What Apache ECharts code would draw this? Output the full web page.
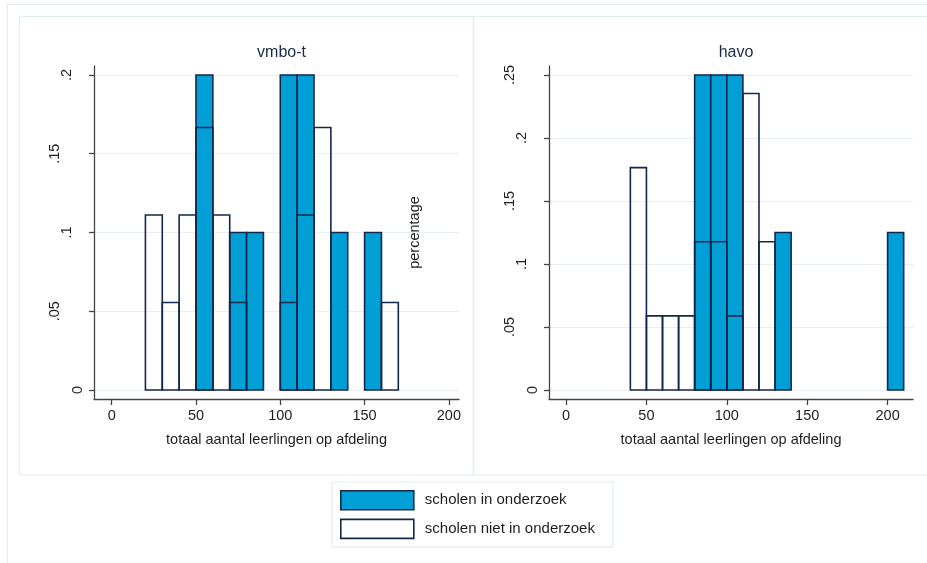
<!DOCTYPE html>
<html>
<head>
<meta charset="utf-8">
<script src="https://cdn.jsdelivr.net/npm/echarts@6/dist/echarts.min.js"></script>
<style>
  html, body { margin: 0; padding: 0; background: #ffffff; }
  #chart { width: 927px; height: 563px; }
</style>
</head>
<body>
<div id="chart"></div>
<script>
// Histogram bins: lower edge of each bin (width 10 pupils) and share of schools
const binWidth = 10;

// vmbo-t
const vmboInStart   = [50, 70, 80, 100, 110, 130, 150];
const vmboInShare   = [0.2, 0.1, 0.1, 0.2, 0.2, 0.1, 0.1];
const vmboNietStart = [20, 30, 40, 50, 60, 70, 100, 110, 120, 160];
const vmboNietShare = [0.1111, 0.0556, 0.1111, 0.1667, 0.1111, 0.0556, 0.0556, 0.1111, 0.1667, 0.0556];

// havo
const havoInStart   = [80, 90, 100, 130, 200];
const havoInShare   = [0.25, 0.25, 0.25, 0.125, 0.125];
const havoNietStart = [40, 50, 60, 70, 80, 90, 100, 110, 120];
const havoNietShare = [0.1765, 0.0588, 0.0588, 0.0588, 0.1176, 0.1176, 0.0588, 0.2353, 0.1176];

// Axis ticks
const xTicks     = [0, 50, 100, 150, 200];
const vmboYTicks = [0, 0.05, 0.1, 0.15, 0.2];
const havoYTicks = [0, 0.05, 0.1, 0.15, 0.2, 0.25];

const panelTitles = ['vmbo-t', 'havo'];
const xAxisTitle = 'totaal aantal leerlingen op afdeling';
const yAxisTitle = 'percentage';
const seriesNames = ['scholen in onderzoek', 'scholen niet in onderzoek'];

const FONT = '"Liberation Sans", Arial, Helvetica, sans-serif';
const BLUE = '#00A0D6';
const EDGE = '#14284b';
const AXIS = '#444444';
const TEXT = '#1e1e1e';
const GRID = '#e8eff0';
const FRAME = '#e3edef';

function zip(starts, shares) {
  return starts.map((s, i) => [s, shares[i]]);
}

// Stata-style labels: ".05" instead of "0.05"
function shortLabel(v) {
  const s = String(+v.toFixed(3));
  return s.startsWith('0.') ? s.slice(1) : s;
}
function yLabel(v) {
  const s = shortLabel(v);
  const key = s.length === 1 ? 'a' : (s.length === 2 ? 'b' : 'c');
  return '{' + key + '|' + s + '}';
}
const yRich = {
  a: { fontSize: 14.5, fontFamily: FONT, color: TEXT, padding: [0, 0, 0, 0] },
  b: { fontSize: 14.5, fontFamily: FONT, color: TEXT, padding: [0, 0, 11, 0] },
  c: { fontSize: 14.5, fontFamily: FONT, color: TEXT, padding: [0, 0, 23, 0] }
};

function makeRender(fill) {
  return function (params, api) {
    const x0 = api.value(0);
    const h = api.value(1);
    const p0 = api.coord([x0, 0]);
    const p1 = api.coord([x0 + binWidth, h]);
    return {
      type: 'rect',
      shape: { x: p0[0], y: p1[1], width: p1[0] - p0[0], height: p0[1] - p1[1] },
      style: { fill: fill, stroke: EDGE, lineWidth: 1.6 }
    };
  };
}

function xAxisFor(gridIndex, min, max) {
  return {
    type: 'value', gridIndex: gridIndex, min: min, max: max,
    name: xAxisTitle, nameLocation: 'middle', nameGap: 33,
    nameTextStyle: { fontSize: 14.5, fontFamily: FONT, color: TEXT },
    axisLine: { show: true, onZero: false, lineStyle: { color: AXIS, width: 1.3 } },
    axisTick: { show: true, length: 6, customValues: xTicks, lineStyle: { color: AXIS, width: 1.3 } },
    axisLabel: { customValues: xTicks, margin: 9, fontSize: 14.5, fontFamily: FONT, color: TEXT },
    splitLine: { show: false }
  };
}

function yAxisFor(gridIndex, min, max, ticks, extra) {
  return Object.assign({
    type: 'value', gridIndex: gridIndex, min: min, max: max,
    axisLine: { show: true, onZero: false, lineStyle: { color: AXIS, width: 1.3 } },
    axisTick: { show: true, length: 5, customValues: ticks, lineStyle: { color: AXIS, width: 1.3 } },
    axisLabel: { customValues: ticks, rotate: 90, margin: 9, formatter: yLabel, rich: yRich,
                 fontSize: 14.5, fontFamily: FONT, color: TEXT },
    splitLine: { show: true, lineStyle: { color: GRID, width: 1.2 } }
  }, extra || {});
}

const chart = echarts.init(document.getElementById('chart'), null, { renderer: 'canvas' });

chart.setOption({
  backgroundColor: '#ffffff',
  animation: false,
  graphic: [
    { type: 'rect', z: -1, silent: true, shape: { x: 7.5, y: 4.5, width: 940, height: 580 },
      style: { fill: 'none', stroke: FRAME, lineWidth: 1.2 } },
    { type: 'rect', z: -1, silent: true, shape: { x: 19.5, y: 16.5, width: 454, height: 458.5 },
      style: { fill: 'none', stroke: FRAME, lineWidth: 1.2 } },
    { type: 'rect', z: -1, silent: true, shape: { x: 473.5, y: 16.5, width: 470, height: 458.5 },
      style: { fill: 'none', stroke: FRAME, lineWidth: 1.2 } }
  ],
  title: [
    { text: panelTitles[0], left: 276.5, top: 40, textAlign: 'center',
      textStyle: { fontSize: 16, fontWeight: 'normal', fontFamily: FONT, color: '#1a2a48' } },
    { text: panelTitles[1], left: 731, top: 40, textAlign: 'center',
      textStyle: { fontSize: 16, fontWeight: 'normal', fontFamily: FONT, color: '#1a2a48' } }
  ],
  legend: {
    orient: 'vertical',
    left: 332, top: 482,
    padding: [8, 18, 8, 8],
    itemWidth: 73, itemHeight: 19, itemGap: 8,
    borderColor: FRAME, borderWidth: 1.2,
    textStyle: { fontSize: 15, fontFamily: FONT, color: TEXT, padding: [0, 0, 0, 6] },
    data: [
      { name: seriesNames[0], icon: 'rect', itemStyle: { color: BLUE, borderColor: EDGE, borderWidth: 1.6 } },
      { name: seriesNames[1], icon: 'rect', itemStyle: { color: '#ffffff', borderColor: EDGE, borderWidth: 1.6 } }
    ]
  },
  grid: [
    { left: 94, top: 66, width: 365, height: 333, containLabel: false },
    { left: 549, top: 66, width: 364, height: 333, containLabel: false }
  ],
  xAxis: [
    xAxisFor(0, -10.5, 206),
    xAxisFor(1, -10.6, 215.8)
  ],
  yAxis: [
    yAxisFor(0, -0.0057, 0.2057, vmboYTicks),
    yAxisFor(1, -0.00714, 0.25714, havoYTicks, {
      name: yAxisTitle, nameLocation: 'middle', nameRotate: 90, nameGap: 127,
      nameTextStyle: { fontSize: 14.5, fontFamily: FONT, color: TEXT }
    })
  ],
  series: [
    { name: seriesNames[0], type: 'custom', xAxisIndex: 0, yAxisIndex: 0,
      itemStyle: { color: BLUE, borderColor: EDGE },
      renderItem: makeRender(BLUE), data: zip(vmboInStart, vmboInShare) },
    { name: seriesNames[1], type: 'custom', xAxisIndex: 0, yAxisIndex: 0,
      itemStyle: { color: '#ffffff', borderColor: EDGE },
      renderItem: makeRender('none'), data: zip(vmboNietStart, vmboNietShare) },
    { name: seriesNames[0], type: 'custom', xAxisIndex: 1, yAxisIndex: 1,
      itemStyle: { color: BLUE, borderColor: EDGE },
      renderItem: makeRender(BLUE), data: zip(havoInStart, havoInShare) },
    { name: seriesNames[1], type: 'custom', xAxisIndex: 1, yAxisIndex: 1,
      itemStyle: { color: '#ffffff', borderColor: EDGE },
      renderItem: makeRender('none'), data: zip(havoNietStart, havoNietShare) }
  ]
});
</script>
</body>
</html>
